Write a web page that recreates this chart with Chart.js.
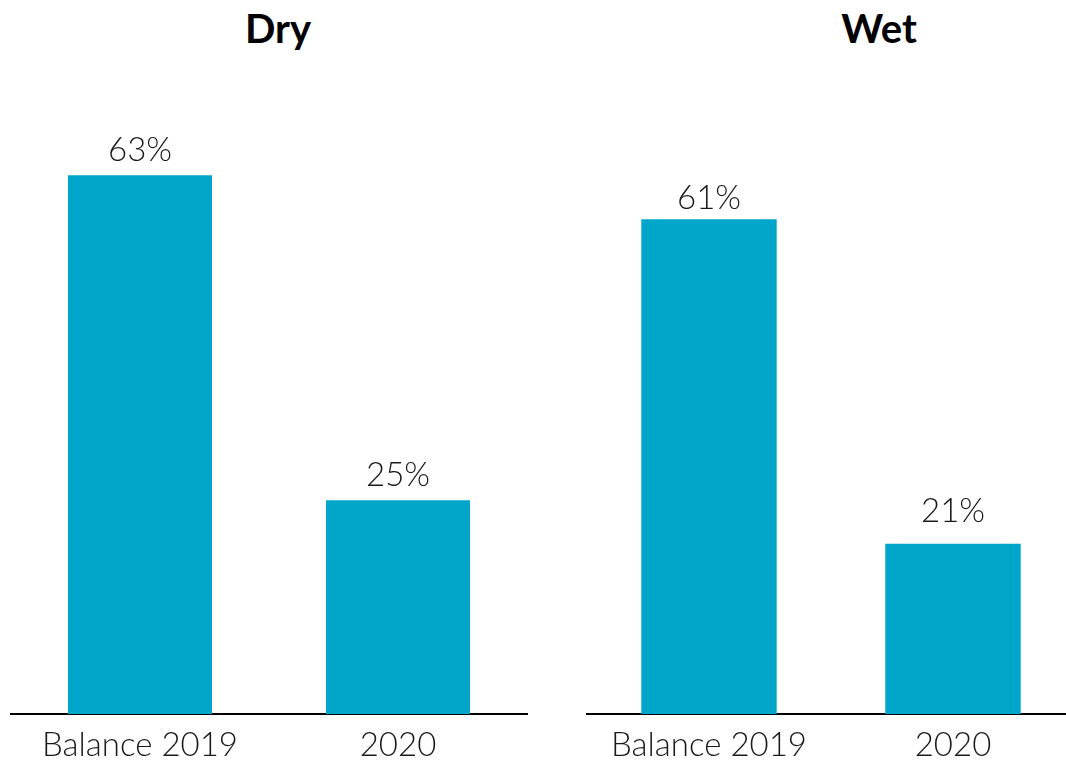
<!DOCTYPE html>
<html>
<head>
<meta charset="utf-8">
<script src="https://cdn.jsdelivr.net/npm/chart.js@4/dist/chart.umd.min.js"></script>
<style>
  html, body { margin: 0; padding: 0; background: #fff; overflow: hidden; width: 1066px; height: 763px; }
  .panel { position: absolute; top: 0; width: 540px; height: 763px; }
  .title { position: absolute; font-family: Lato, sans-serif; font-weight: 700; font-size: 40px; line-height: 40px; color: #000; white-space: nowrap; transform: translateX(-50%); }
</style>
</head>
<body>
<div class="title" id="t1" style="left:278px; top:8px;"></div>
<div class="title" id="t2" style="left:879px; top:8px;"></div>
<div class="panel" style="left:0px;"><canvas id="c1" width="540" height="763"></canvas></div>
<div class="panel" style="left:560px;"><canvas id="c2" width="540" height="763"></canvas></div>
<script>
const categories = ["Balance 2019", "2020"];
const dryValues = [63, 25];
const wetValues = [61, 21];
const panelTitles = ["Dry", "Wet"];

document.getElementById('t1').textContent = panelTitles[0];
document.getElementById('t2').textContent = panelTitles[1];

const BAR_COLOR = '#00a6c9';
const FONT = 'Lato, sans-serif';

const valueLabels = {
  id: 'valueLabels',
  afterDatasetsDraw(chart, args, opts) {
    const ctx = chart.ctx;
    const gaps = opts.gaps || [];
    ctx.save();
    ctx.font = '300 33px ' + FONT;
    ctx.fillStyle = '#1a1a1a';
    ctx.textAlign = 'center';
    ctx.textBaseline = 'alphabetic';
    const meta = chart.getDatasetMeta(0);
    meta.data.forEach((bar, i) => {
      const v = chart.data.datasets[0].data[i];
      ctx.fillText(v + '%', bar.x, bar.y - (gaps[i] ?? 14));
    });
    ctx.restore();
  }
};

function makeChart(id, values, yMax, padLeft, padRight, barPct, gaps) {
  return new Chart(document.getElementById(id), {
    type: 'bar',
    data: {
      labels: categories,
      datasets: [{ data: values, backgroundColor: BAR_COLOR, borderWidth: 0, barPercentage: barPct, categoryPercentage: 1 }]
    },
    options: {
      responsive: false,
      animation: false,
      layout: { padding: { top: 100, left: padLeft, right: padRight, bottom: 0 } },
      plugins: { legend: { display: false }, tooltip: { enabled: false }, title: { display: false }, valueLabels: { gaps } },
      scales: {
        x: {
          grid: { display: false, drawTicks: false },
          border: { display: true, color: '#000', width: 2 },
          ticks: { color: '#1a1a1a', font: { family: FONT, size: 33, weight: '300' }, padding: 12 },
          afterFit(s) { s.height = 49; }
        },
        y: { display: false, min: 0, max: yMax }
      }
    },
    plugins: [valueLabels]
  });
}

makeChart('c1', dryValues, 71.8, 11, 13, 0.558, [14, 14]);
makeChart('c2', wetValues, 75.7, 27, 25, 0.555, [10, 22]);
</script>
</body>
</html>
